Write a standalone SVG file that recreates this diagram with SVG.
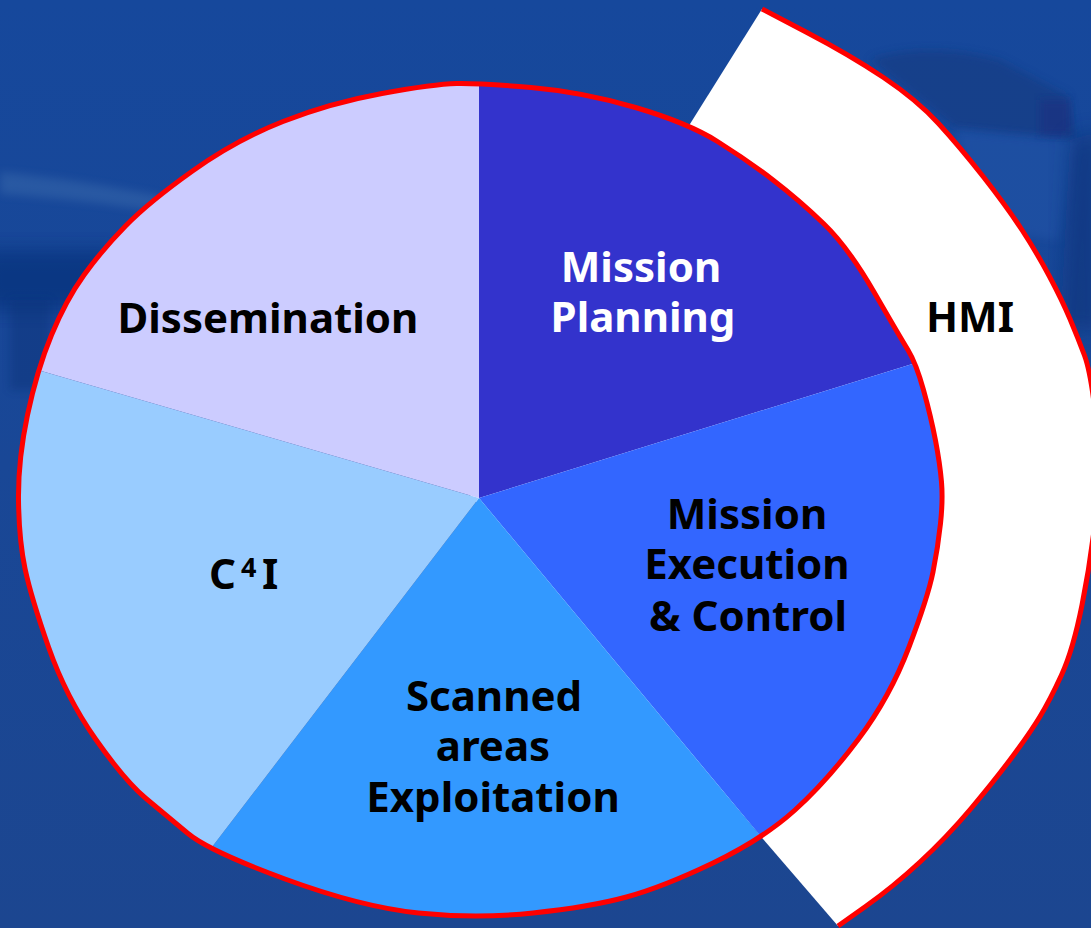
<svg xmlns="http://www.w3.org/2000/svg" width="1091" height="928" viewBox="0 0 1091 928">
  <defs>
    <style>
      .lbl { font-family: "Noto Sans", "DejaVu Sans", sans-serif; font-weight: bold; font-size: 42px; text-anchor: middle; fill: #000000; }
      .lbl.light { fill: #ffffff; }
      .rim { fill: none; stroke: #ff0000; stroke-width: 5; stroke-linejoin: round; stroke-linecap: butt; }
    </style>
    <linearGradient id="bg" x1="0" y1="0" x2="0" y2="1">
      <stop offset="0" stop-color="#16489c"/>
      <stop offset="1" stop-color="#1c4690"/>
    </linearGradient>
    <filter id="soft" x="-20%" y="-20%" width="140%" height="140%">
      <feGaussianBlur stdDeviation="4"/>
    </filter>
    <filter id="softer" x="-30%" y="-30%" width="160%" height="160%">
      <feGaussianBlur stdDeviation="10"/>
    </filter>
    <!-- outline of the pie, shared by the clip and the red rim -->
    <path id="pieShape" d="M456.5,83.5 Q479,83 531,87.5 Q583,92 635.5,107.5 Q688,123 717.5,141.5 Q747,160 773,180 Q799,200 823.5,223.5 Q848,247 874,292 Q900,337 908,350 Q916,363 923.5,390 Q931,417 935.5,440.5 Q940,464 941.5,482 Q943,500 940.5,523.5 Q938,547 933,572 Q928,597 909,647 Q890,697 858.5,739 Q827,781 795,810 Q763,839 713,863 Q663,887 626.5,897 Q590,907 533,913 Q476,919 418.5,913 Q361,907 285,879 Q209,851 188,833.5 Q167,816 146,798.5 Q125,781 95.5,739 Q66,697 48.5,647 Q31,597 25,568.5 Q19,540 18.5,500 Q18,460 27.5,415 Q37,370 51.5,335 Q66,300 84,275 Q102,250 125.5,226 Q149,202 192.5,171 Q236,140 283,121.5 Q330,103 382,93.5 Q434,84 456.5,83.5 Z"/>
    <clipPath id="pieClip">
      <use href="#pieShape"/>
    </clipPath>
  </defs>

  <!-- backdrop -->
  <rect x="0" y="0" width="1091" height="928" fill="url(#bg)"/>
  <g id="backdrop-details">
    <path d="M0,172 C60,178 110,186 160,196 L160,212 C110,204 60,198 0,194 Z" fill="#4a78b4" opacity="0.35" filter="url(#soft)"/>
    <rect x="-20" y="250" width="140" height="60" fill="#062c72" opacity="0.55" filter="url(#softer)"/>
    <rect x="10" y="300" width="40" height="90" fill="#0a3278" opacity="0.45" filter="url(#soft)"/>
    <path d="M870,60 C900,48 950,46 1000,60 L1068,96 L1076,140 L955,128 Z" fill="#123a80" opacity="0.6" filter="url(#soft)"/>
    <path d="M955,130 L1076,140 L1060,240 L990,230 Z" fill="#2a5cb0" opacity="0.35" filter="url(#soft)"/>
    <rect x="1040" y="100" width="30" height="35" fill="#1a2f80" opacity="0.6" filter="url(#soft)"/>
    <path d="M1070,140 L1100,130 L1100,330 L1060,330 Z" fill="#0a3078" opacity="0.6" filter="url(#softer)"/>
  </g>

  <!-- HMI band wrapping the right side of the pie -->
  <g id="node-hmi">
    <path d="M762,9 L806,32 Q850,55 883.5,77.5 Q917,100 938.5,123.5 Q960,147 983.5,177 Q1007,207 1022,230 Q1037,253 1049.5,276.5 Q1062,300 1070,319 Q1078,338 1084.5,355.5 Q1091,373 1096,419.5 Q1101,466 1096,513 Q1091,560 1082,605 Q1073,650 1061.5,675 Q1050,700 1040,716.5 Q1030,733 1012.5,756.5 Q995,780 971,808.5 Q947,837 920,862 Q893,887 865.5,906.5 L838,926 L763,839 L470,495 L690,124 Z" fill="#ffffff"/>
    <path class="rim" d="M762,9 L806,32 Q850,55 883.5,77.5 Q917,100 938.5,123.5 Q960,147 983.5,177 Q1007,207 1022,230 Q1037,253 1049.5,276.5 Q1062,300 1070,319 Q1078,338 1084.5,355.5 Q1091,373 1096,419.5 Q1101,466 1096,513 Q1091,560 1082,605 Q1073,650 1061.5,675 Q1050,700 1040,716.5 Q1030,733 1012.5,756.5 Q995,780 971,808.5 Q947,837 920,862 Q893,887 865.5,906.5 L838,926"/>
    <text class="lbl" x="970" y="332">HMI</text>
  </g>

  <!-- pie sectors -->
  <g clip-path="url(#pieClip)">
    <g id="node-mission-planning">
      <polygon points="479,498 479,-50 1200,-50 1200,275" fill="#3333cc"/>
    </g>
    <g id="node-mission-execution">
      <polygon points="479,498 1200,275 1200,1000 897,1000" fill="#3366ff"/>
    </g>
    <g id="node-scanned-areas">
      <polygon points="479,498 897,1000 95,1000" fill="#3399ff"/>
    </g>
    <g id="node-c4i">
      <polygon points="479,498 95,1000 -100,1000 -100,330" fill="#99ccff"/>
    </g>
    <g id="node-dissemination">
      <polygon points="479,498 -100,330 -100,-50 479,-50" fill="#ccccff"/>
    </g>
  </g>
  <use href="#pieShape" class="rim"/>

  <!-- sector labels -->
  <g id="labels">
    <text class="lbl" x="268" y="333">Dissemination</text>
    <text class="lbl light" x="641" y="282">Mission</text>
    <text class="lbl light" x="643" y="332">Planning</text>
    <text class="lbl" x="747" y="529">Mission</text>
    <text class="lbl" x="747" y="579">Execution</text>
    <text class="lbl" x="748" y="631">&amp; Control</text>
    <text class="lbl" x="494" y="711">Scanned</text>
    <text class="lbl" x="493" y="761">areas</text>
    <text class="lbl" x="493" y="812">Exploitation</text>
    <text class="lbl" style="text-anchor:start" x="209" y="589">C<tspan x="241" y="577" font-size="27">4</tspan><tspan x="262" y="589">I</tspan></text>
  </g>
</svg>
